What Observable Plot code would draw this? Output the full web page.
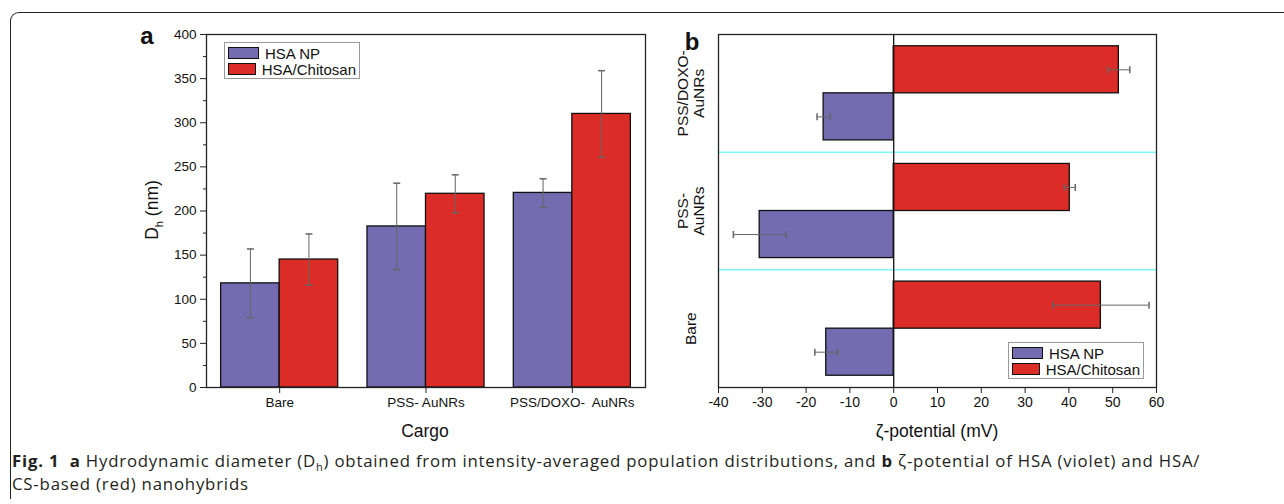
<!DOCTYPE html>
<html><head><meta charset="utf-8">
<script src="https://cdn.jsdelivr.net/npm/d3@7"></script>
<script src="https://cdn.jsdelivr.net/npm/@observablehq/plot@0.6"></script>
<style>
body{margin:0;background:#fff;width:1284px;height:504px;overflow:hidden;position:relative;font-family:"Liberation Sans",Arial,sans-serif;}
#border{position:absolute;left:10px;top:12px;width:1300px;height:486px;border-top:1.5px solid #222;border-left:1.5px solid #222;border-top-left-radius:9px;}
#pa{position:absolute;left:0;top:0}
#pb{position:absolute;left:640px;top:0}
.legend{position:absolute;border:1px solid #999;background:#fff;padding:2px 3px;font-size:15px;color:#111;box-sizing:border-box}
.legend div{display:flex;align-items:center;height:16px}
.legend span.sw{display:inline-block;width:29px;height:10px;border:1.4px solid #111;margin-right:6px}
#caption{position:absolute;left:12px;top:449px;font-family:"Open Sans";font-size:16.8px;line-height:23px;color:#231f20;white-space:nowrap;letter-spacing:0.8px}
#caption sub{font-size:11px;line-height:0}
</style></head>
<body>
<div id="border"></div>
<div id="pa"></div>
<div id="pb"></div>
<div id="caption"><b>Fig. 1</b>&nbsp; <b>a</b> Hydrodynamic diameter (D<sub>h</sub>) obtained from intensity-averaged population distributions, and <b>b</b> ζ-potential of HSA (violet) and HSA/<br>CS-based (red) nanohybrids</div>
<script>
// ---- data ----
const categories = ["Bare", "PSS- AuNRs", "PSS/DOXO-  AuNRs"];
const zetaLabels = ["Bare", "PSS-\nAuNRs", "PSS/DOXO-\nAuNRs"];
const series = ["HSA NP", "HSA/Chitosan"];
const colors = ["#756bb0", "#dc2c27"];
const dhHSA = [118, 182.5, 220.5];
const dhHSAErr = [39, 49, 16];
const dhCS = [145, 219.5, 310];
const dhCSErr = [29, 21.5, 49];
const zetaHSA = [-15.4, -30.6, -16.0];
const zetaHSAErr = [2.6, 6.0, 1.5];
const zetaCS = [47.3, 40.2, 51.4];
const zetaCSErr = [11, 1.25, 2.5];
const dhTicks = [0, 50, 100, 150, 200, 250, 300, 350, 400];
const dhMinor = [25, 75, 125, 175, 225, 275, 325, 375];
const zetaTicks = [-40, -30, -20, -10, 0, 10, 20, 30, 40, 50, 60];

const half = 0.4;
function table(a, ae, b, be) {
  return categories.flatMap((c, i) => [
    {i, series: series[0], v: a[i], e: ae[i], lo: i - half, hi: i, mid: i - half / 2},
    {i, series: series[1], v: b[i], e: be[i], lo: i, hi: i + half, mid: i + half / 2}
  ]);
}
const dh = table(dhHSA, dhHSAErr, dhCS, dhCSErr);
const zeta = table(zetaHSA, zetaHSAErr, zetaCS, zetaCSErr);

const hCap = {draw(ctx, size) { const r = Math.sqrt(size / Math.PI); ctx.moveTo(-r, 0); ctx.lineTo(r, 0); }};
const vCap = {draw(ctx, size) { const r = Math.sqrt(size / Math.PI); ctx.moveTo(0, -r); ctx.lineTo(0, r); }};
const errColor = "#666";
const fmt = d => String(d);

// ---- panel a ----
const pa = Plot.plot({
  width: 660, height: 450,
  marginLeft: 206, marginRight: 15, marginTop: 34, marginBottom: 63,
  x: {domain: [-0.5, 2.5]},
  y: {domain: [0, 400]},
  color: {domain: series, range: colors},
  style: {fontFamily: "Liberation Sans, Arial, sans-serif", fontSize: "13.5px", color: "#111", background: "transparent"},
  marks: [
    Plot.rect(dh, {x1: "lo", x2: "hi", y1: 0, y2: "v", fill: "series", stroke: "#111", strokeWidth: 1.3}),
    Plot.ruleX(dh, {x: "mid", y1: d => d.v - d.e, y2: d => d.v + d.e, stroke: errColor, strokeWidth: 1}),
    Plot.dot(dh, {x: "mid", y: d => d.v - d.e, symbol: hCap, r: 3.5, stroke: errColor, fill: "none"}),
    Plot.dot(dh, {x: "mid", y: d => d.v + d.e, symbol: hCap, r: 3.5, stroke: errColor, fill: "none"}),
    Plot.frame({stroke: "#222", strokeWidth: 1.3}),
    Plot.axisY({ticks: dhTicks, tickFormat: fmt, tickSize: 6, tickPadding: 4, label: null, stroke: "#222"}),
    Plot.axisY({ticks: dhMinor, tickSize: 3, text: null, label: null, stroke: "#222"}),
    Plot.axisX({ticks: [0, 1, 2], tickFormat: i => categories[i], tickSize: 6, tickPadding: 4, label: null, stroke: "#222"})
  ]
});
document.getElementById("pa").appendChild(pa);
{
  const s = d3.select(pa);
  const yl = s.append("text").attr("transform", "translate(158,210) rotate(-90)")
    .attr("text-anchor", "middle").attr("font-size", 17.5).attr("fill", "#111");
  yl.append("tspan").text("D");
  yl.append("tspan").attr("font-size", 11).attr("dy", 5).text("h");
  yl.append("tspan").attr("dy", -5).text(" (nm)");
  s.append("text").attr("x", 425).attr("y", 437).attr("text-anchor", "middle")
    .attr("font-size", 17.5).attr("fill", "#111").text("Cargo");
  s.append("text").attr("x", 147).attr("y", 44).attr("font-size", 24)
    .attr("font-weight", "bold").attr("fill", "#111").text("a");
}

// ---- panel b ----
const pb = Plot.plot({
  width: 540, height: 450,
  marginLeft: 78, marginRight: 24, marginTop: 34, marginBottom: 63,
  x: {domain: [-40, 60]},
  y: {domain: [-0.5, 2.5], axis: null},
  color: {domain: series, range: colors},
  style: {fontFamily: "Liberation Sans, Arial, sans-serif", fontSize: "14px", color: "#111", background: "transparent"},
  marks: [
    Plot.ruleY([0.5, 1.5], {stroke: "#7ff6f6", strokeWidth: 1.5}),
    Plot.rect(zeta, {y1: "lo", y2: "hi", x1: 0, x2: "v", fill: "series", stroke: "#111", strokeWidth: 1.3}),
    Plot.ruleX([0], {stroke: "#111", strokeWidth: 1.3}),
    Plot.ruleY(zeta, {y: "mid", x1: d => d.v - d.e, x2: d => d.v + d.e, stroke: errColor, strokeWidth: 1}),
    Plot.dot(zeta, {y: "mid", x: d => d.v - d.e, symbol: vCap, r: 3.5, stroke: errColor, fill: "none"}),
    Plot.dot(zeta, {y: "mid", x: d => d.v + d.e, symbol: vCap, r: 3.5, stroke: errColor, fill: "none"}),
    Plot.frame({stroke: "#222", strokeWidth: 1.3}),
    Plot.axisX({ticks: zetaTicks, tickFormat: fmt, tickSize: 6, tickPadding: 4, label: null, stroke: "#222"}),
    Plot.text(zetaLabels, {y: (d, i) => i, x: -40, text: d => d, rotate: -90, dx: -28, fontSize: 15.5, lineAnchor: "middle", textAnchor: "middle", lineHeight: 1.05, fill: "#111"})
  ]
});
document.getElementById("pb").appendChild(pb);
{
  const s = d3.select(pb);
  s.append("text").attr("x", 297).attr("y", 437).attr("text-anchor", "middle")
    .attr("font-size", 17.5).attr("fill", "#111").text("ζ-potential (mV)");
  s.append("text").attr("x", 52).attr("y", 50).attr("font-size", 24)
    .attr("font-weight", "bold").attr("fill", "#111").text("b");
}

// ---- legends ----
function legend(left, top) {
  const L = document.createElement("div");
  L.className = "legend";
  L.style.left = left + "px"; L.style.top = top + "px";
  L.style.width = "136px"; L.style.height = "37px";
  series.forEach((s, k) => {
    const row = document.createElement("div");
    const sw = document.createElement("span");
    sw.className = "sw"; sw.style.background = colors[k];
    row.appendChild(sw);
    row.appendChild(document.createTextNode(s));
    L.appendChild(row);
  });
  document.body.appendChild(L);
}
legend(224, 42);
legend(1008, 342);
</script>
</body></html>
